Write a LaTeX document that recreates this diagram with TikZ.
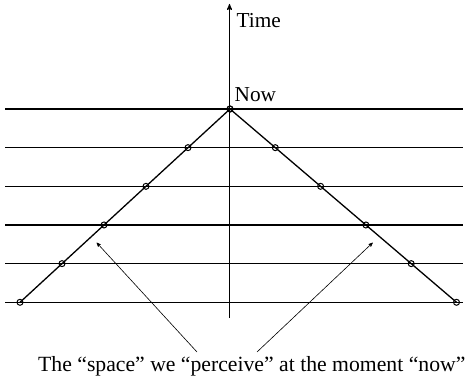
\documentclass[tikz,border=0pt]{standalone}
\usepackage{fontspec}
\setmainfont{Liberation Serif}
\usetikzlibrary{positioning,arrows}

\begin{document}
\begin{tikzpicture}[
    x=1pt, y=-1pt,
    level/.style={line width=1.1pt},
    cone/.style={line width=1.3pt},
    pt/.style={draw, circle, inner sep=0pt, minimum size=6pt, line width=1pt},
    lbl/.style={anchor=base west, inner sep=0pt, font=\fontsize{21.3}{25}\selectfont}
]
\useasboundingbox (0,0) rectangle (466,377);
\foreach \k in {0,...,5} {
    \draw[level] (5,109+38.66*\k) -- (463,109+38.66*\k);
    \coordinate (l\k) at (230-42*\k,109+38.66*\k);
    \coordinate (r\k) at (230+45.3*\k,109+38.66*\k);
}
\coordinate (base) at (229.5,318);
\coordinate (top) at (229.5,4);
\draw[line width=1.1pt,-stealth'] (base) -- (top);
\draw[cone] (l5) -- (l0) -- (r5);
\foreach \k in {0,...,5} {
    \node[pt] (pl\k) at (l\k) {};
    \node[pt] (pr\k) at (r\k) {};
}
\node[lbl] (time) at (236.5,28) {Time};
\node[lbl] (now) at (234.5,102) {Now};
\node[lbl, font=\fontsize{21.7}{26}\selectfont] (caption) at (38,371)
    {The ``space'' we ``perceive'' at the moment ``now''};
% arrows to the cone
\coordinate (la) at (197,352);
\coordinate (ra) at (257,352);
\coordinate (ltip) at (96.7,242.7);
\coordinate (rtip) at (372.7,242.7);
\draw[line width=0.6pt,-stealth'] (la) -- (ltip);
\draw[line width=0.6pt,-stealth'] (ra) -- (rtip);
\end{tikzpicture}
\end{document}
